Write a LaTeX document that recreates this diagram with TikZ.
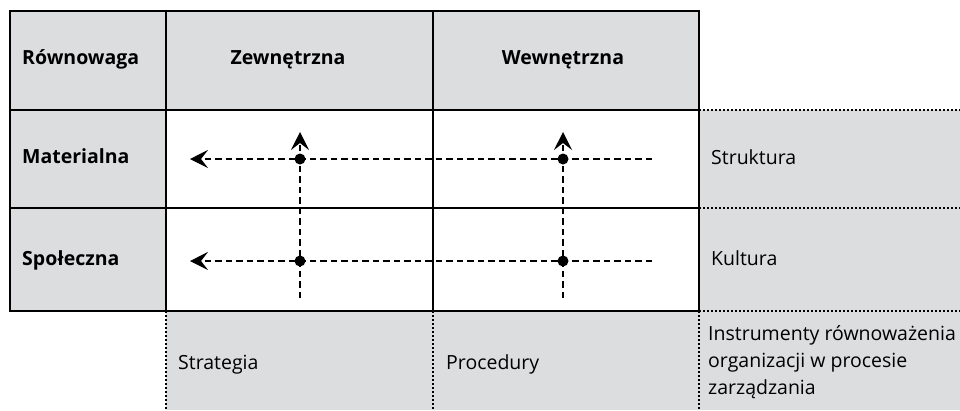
\documentclass[tikz,border=0pt]{standalone}
\usepackage{fontspec}
\setmainfont{Open Sans}
\usetikzlibrary{arrows.meta}
\definecolor{cellgray}{HTML}{DCDDDF}
\begin{document}
\begin{tikzpicture}[x=1pt,y=-1pt,
  gridline/.style={line width=2pt},
  dotline/.style={line width=1.8pt, dash pattern=on 2pt off 2pt},
  flow/.style={line width=1.3pt, dash pattern=on 6.5pt off 4pt},
  tipped/.style={-{Stealth[length=18pt,width=18pt,inset=7pt]}},
  dot/.style={circle,fill=black,inner sep=0pt,minimum size=11pt},
  lbl/.style={font=\fontsize{19.5}{27}\selectfont, anchor=west, inner sep=0pt, text height=14pt, text depth=4.5pt},
  hdr/.style={lbl, font=\fontsize{19.5}{27}\selectfont\bfseries},
  hdrc/.style={hdr, anchor=center}]
\useasboundingbox (0,0) rectangle (960,410);
% fills
\fill[cellgray] (10,11) rectangle (699,110);
\fill[cellgray] (10,110) rectangle (166,311);
\fill[cellgray] (699,110) rectangle (960,311);
\fill[cellgray] (166,311) rectangle (960,410);
% solid grid
\draw[gridline] (10,11) rectangle (699,311);
\draw[gridline] (10,110) -- (699,110);
\draw[gridline] (10,208) -- (699,208);
\draw[gridline] (166,11) -- (166,311);
\draw[gridline] (433,11) -- (433,311);
% dotted lines
\draw[dotline] (699,110) -- (960,110);
\draw[dotline] (699,208) -- (960,208);
\draw[dotline] (699,311) -- (960,311);
\draw[dotline] (166,311) -- (166,410);
\draw[dotline] (433,311) -- (433,410);
\draw[dotline] (699,311) -- (699,410);
% texts
\node[hdr] (rown) at (22,60) {Równowaga};
\node[hdrc] (zewn) at (288,60) {Zewnętrzna};
\node[hdrc] (wewn) at (563,60) {Wewnętrzna};
\node[hdr] (mat) at (22,159) {Materialna};
\node[hdr] (spol) at (22,261) {Społeczna};
\node[lbl] (strukt) at (711,160) {Struktura};
\node[lbl] (kult) at (711,261) {Kultura};
\node[lbl] (strat) at (178,365) {Strategia};
\node[lbl] (proc) at (446,365) {Procedury};
\node[lbl, align=left, text height=, text depth=] (instr) at (708,362) {Instrumenty równoważenia\\organizacji w procesie\\zarządzania};
% flow coordinates
\coordinate (r1e) at (652,159);
\coordinate (r1w) at (190,159);
\coordinate (r2e) at (652,261);
\coordinate (r2w) at (190,261);
\coordinate (c1b) at (300,298);
\coordinate (c1t) at (300,132);
\coordinate (c2b) at (563,298);
\coordinate (c2t) at (563,132);
\draw[flow,tipped] (r1e) -- (r1w);
\draw[flow,tipped] (r2e) -- (r2w);
\draw[flow,tipped] (c1b) -- (c1t);
\draw[flow,tipped] (c2b) -- (c2t);
\node[dot] (d11) at (300,159) {};
\node[dot] (d12) at (563,159) {};
\node[dot] (d21) at (300,261) {};
\node[dot] (d22) at (563,261) {};
\end{tikzpicture}
\end{document}
